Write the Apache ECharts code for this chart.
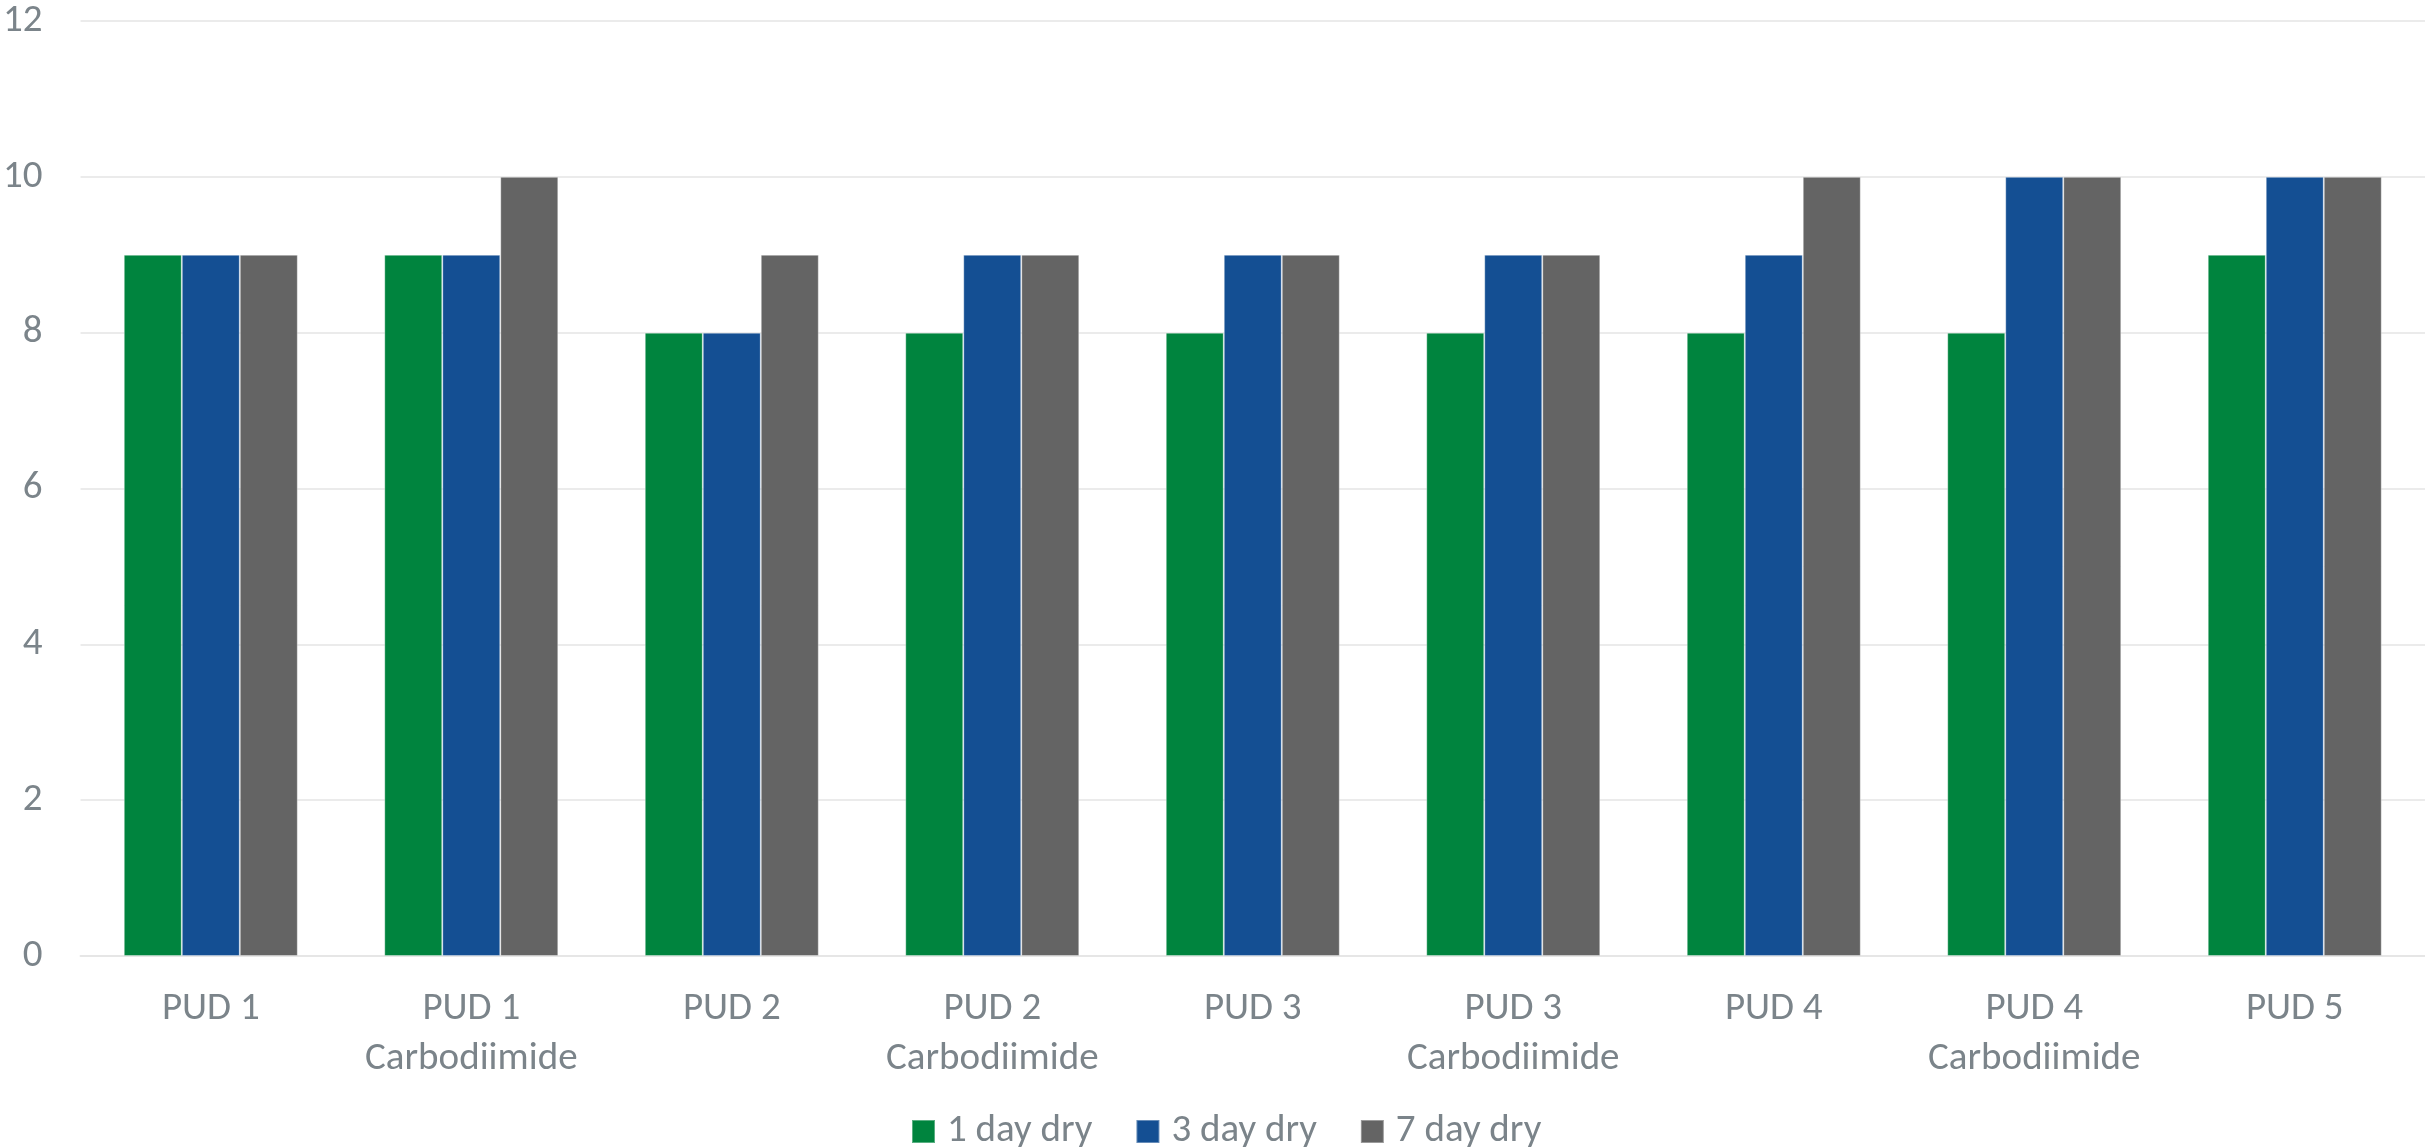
<!DOCTYPE html>
<html>
<head>
<meta charset="utf-8">
<title>Dry time ratings</title>
<script src="https://cdn.jsdelivr.net/npm/echarts@6/dist/echarts.min.js"></script>
<style>
  html, body { margin: 0; padding: 0; background: #ffffff; }
  #chart { width: 2425px; height: 1147px; }
</style>
</head>
<body>
<div id="chart"></div>
<script>
// Formulations on the category axis
const categories = [
  'PUD 1', 'PUD 1\nCarbodiimide', 'PUD 2', 'PUD 2\nCarbodiimide',
  'PUD 3', 'PUD 3\nCarbodiimide', 'PUD 4', 'PUD 4\nCarbodiimide', 'PUD 5'
];

// Ratings after each drying period
const oneDayDry = [9, 9, 8, 8, 8, 8, 8, 8, 9];
const threeDayDry = [9, 9, 8, 9, 9, 9, 9, 10, 10];
const sevenDayDry = [9, 10, 9, 9, 9, 9, 10, 10, 10];

const seriesNames = ['1 day dry', '3 day dry', '7 day dry'];
const seriesColors = ['#00843e', '#144f93', '#646464'];

const textColor = '#7b848a';
const fontFamily = 'Carlito, Calibri, Lato, sans-serif';
const fontSize = 39;

const chart = echarts.init(document.getElementById('chart'));

const makeSeries = (name, data, color) => ({
  name: name,
  type: 'bar',
  data: data,
  barWidth: 58,
  barGap: '0%',
  itemStyle: {
    color: color,
    borderColor: 'rgba(255,255,255,0.35)',
    borderWidth: 1
  }
});

chart.setOption({
  animation: false,
  backgroundColor: '#ffffff',
  textStyle: { fontFamily: fontFamily },
  grid: { left: 76, right: 0, top: 21, bottom: 191, containLabel: false },
  legend: {
    data: seriesNames,
    left: 911,
    top: 1112,
    padding: 0,
    icon: 'rect',
    itemWidth: 23,
    itemHeight: 23,
    itemGap: 43,
    textStyle: { color: textColor, fontSize: fontSize, fontFamily: fontFamily, lineHeight: 39, padding: [0, 0, 0, 7] }
  },
  xAxis: {
    type: 'category',
    data: categories,
    axisTick: { show: false },
    axisLine: { lineStyle: { color: '#e6e6e6', width: 2 } },
    axisLabel: {
      color: textColor,
      fontSize: fontSize,
      fontFamily: fontFamily,
      lineHeight: 50,
      margin: 28,
      interval: 0
    }
  },
  yAxis: {
    type: 'value',
    min: 0,
    max: 12,
    interval: 2,
    axisLine: { show: false },
    axisTick: { show: false },
    splitLine: { lineStyle: { color: '#ebebeb', width: 2 } },
    axisLabel: { color: textColor, fontSize: fontSize, fontFamily: fontFamily, margin: 38 }
  },
  series: [
    makeSeries(seriesNames[0], oneDayDry, seriesColors[0]),
    makeSeries(seriesNames[1], threeDayDry, seriesColors[1]),
    makeSeries(seriesNames[2], sevenDayDry, seriesColors[2])
  ]
});
</script>
</body>
</html>
